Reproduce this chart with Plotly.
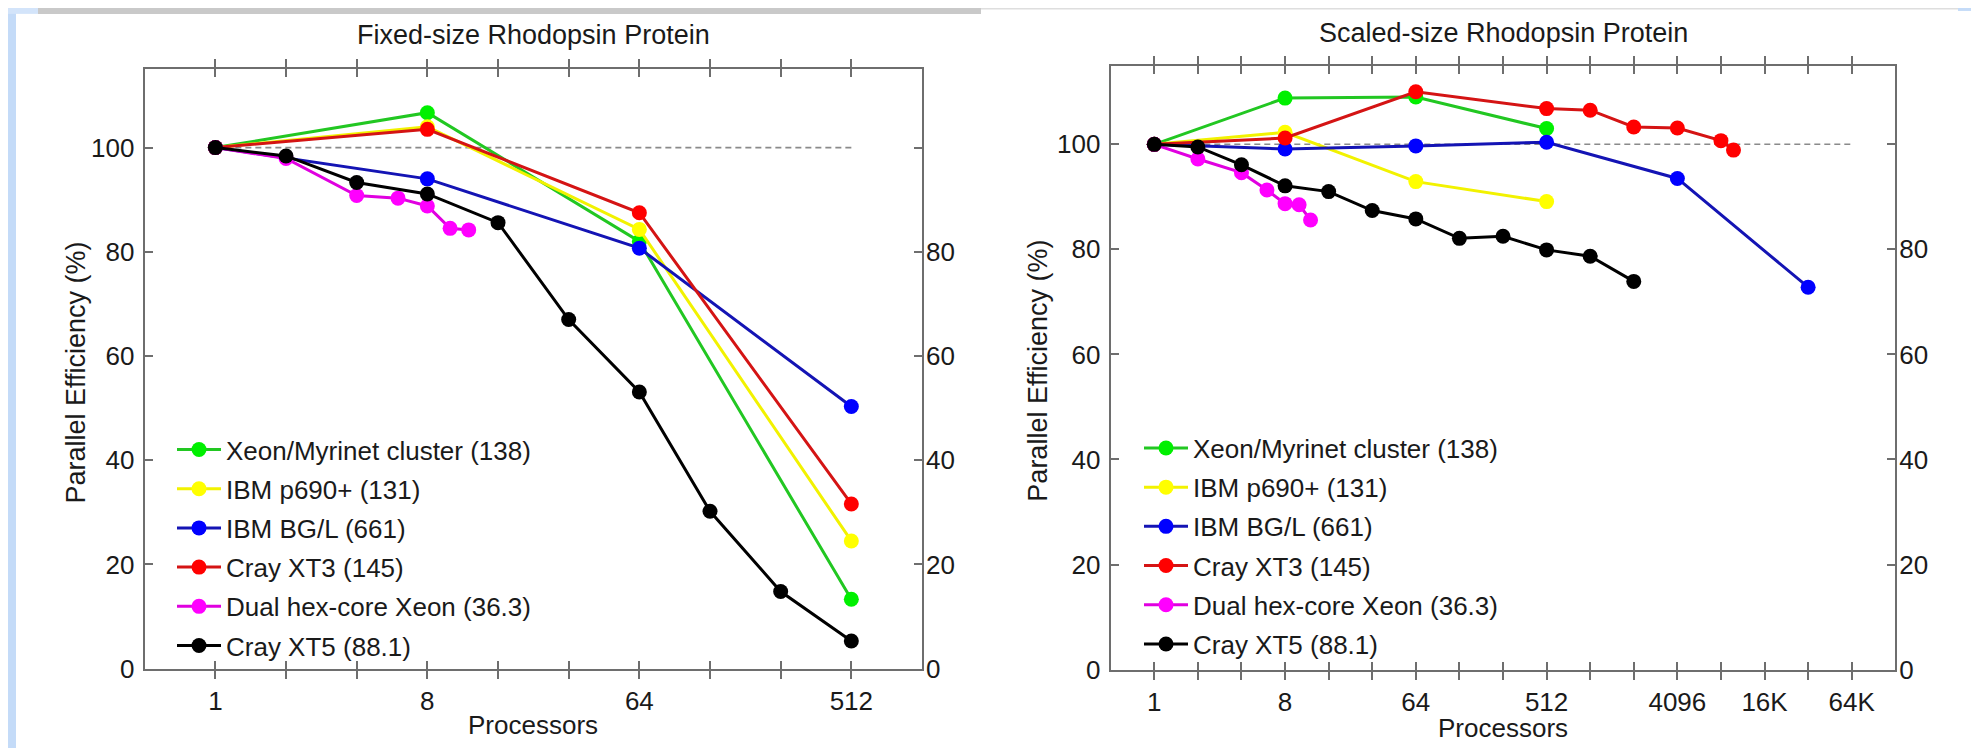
import math
import plotly.graph_objects as go

# ---------------- data ----------------
series_names = ["Xeon/Myrinet cluster (138)", "IBM p690+ (131)", "IBM BG/L (661)",
                "Cray XT3 (145)", "Dual hex-core Xeon (36.3)", "Cray XT5 (88.1)"]
line_colors = ["#22c722", "#f2f200", "#1414b4", "#d41414", "#e000e0", "#000000"]
marker_colors = ["#00f000", "#ffff00", "#0000ff", "#ff0000", "#ff00ff", "#000000"]

# Fixed-size Rhodopsin Protein
fixed_xeon_x = [1, 8, 64, 512]
fixed_xeon_y = [100, 106.7, 82.0, 13.3]
fixed_p690_x = [1, 8, 64, 512]
fixed_p690_y = [100, 104.0, 84.3, 24.5]
fixed_bgl_x = [1, 8, 64, 512]
fixed_bgl_y = [100, 94.0, 80.7, 50.3]
fixed_xt3_x = [1, 8, 64, 512]
fixed_xt3_y = [100, 103.5, 87.5, 31.6]
fixed_hex_x = [1, 2, 4, 6, 8, 10, 12]
fixed_hex_y = [100, 97.9, 90.8, 90.3, 88.8, 84.5, 84.2]
fixed_xt5_x = [1, 2, 4, 8, 16, 32, 64, 128, 256, 512]
fixed_xt5_y = [100, 98.4, 93.3, 91.1, 85.6, 67.0, 53.1, 30.2, 14.8, 5.3]

# Scaled-size Rhodopsin Protein
scaled_xeon_x = [1, 8, 64, 512]
scaled_xeon_y = [100, 108.8, 109.0, 103.0]
scaled_p690_x = [1, 8, 64, 512]
scaled_p690_y = [100, 102.3, 92.9, 89.1]
scaled_bgl_x = [1, 8, 64, 512, 4096, 32768]
scaled_bgl_y = [100, 99.1, 99.7, 100.4, 93.5, 72.8]
scaled_xt3_x = [1, 8, 64, 512, 1024, 2048, 4096, 8192, 10000]
scaled_xt3_y = [100, 101.2, 110.0, 106.8, 106.5, 103.3, 103.1, 100.7, 98.9]
scaled_hex_x = [1, 2, 4, 6, 8, 10, 12]
scaled_hex_y = [100, 97.2, 94.6, 91.3, 88.7, 88.5, 85.6]
scaled_xt5_x = [1, 2, 4, 8, 16, 32, 64, 128, 256, 512, 1024, 2048]
scaled_xt5_y = [100, 99.5, 96.1, 92.1, 91.0, 87.4, 85.8, 82.1, 82.5, 79.9, 78.7, 73.9]

# ideal-efficiency reference lines
fixed_ref_x = [1, 512]
scaled_ref_x = [1, 65536]
ref_y = [100, 100]

# axis ticks
fixed_tickvals = [1, 2, 4, 8, 16, 32, 64, 128, 256, 512]
fixed_ticktext = ["1", "", "", "8", "", "", "64", "", "", "512"]
scaled_tickvals = [1, 2, 4, 8, 16, 32, 64, 128, 256, 512, 1024, 2048, 4096,
                   8192, 16384, 32768, 65536]
scaled_ticktext = ["1", "", "", "8", "", "", "64", "", "", "512", "", "",
                   "4096", "", "16K", "", "64K"]
y_tickvals = [0, 20, 40, 60, 80, 100]
y_ticktext_left = ["0", "20", "40", "60", "80", "100"]
y_ticktext_right = ["0", "20", "40", "60", "80", ""]

# ---------------- figure ----------------
W, H = 1979, 755
FONT = "Liberation Sans, Arial, Helvetica, sans-serif"

def px_x(p):
    return p / W

def px_y(p):
    return 1 - p / H

fig = go.Figure()

fixed_sets = [(fixed_xeon_x, fixed_xeon_y), (fixed_p690_x, fixed_p690_y),
              (fixed_bgl_x, fixed_bgl_y), (fixed_xt3_x, fixed_xt3_y),
              (fixed_hex_x, fixed_hex_y), (fixed_xt5_x, fixed_xt5_y)]
scaled_sets = [(scaled_xeon_x, scaled_xeon_y), (scaled_p690_x, scaled_p690_y),
               (scaled_bgl_x, scaled_bgl_y), (scaled_xt3_x, scaled_xt3_y),
               (scaled_hex_x, scaled_hex_y), (scaled_xt5_x, scaled_xt5_y)]

# dashed 100% lines
fig.add_trace(go.Scatter(x=fixed_ref_x, y=ref_y, mode="lines", xaxis="x", yaxis="y",
                         line=dict(color="#8a8a8a", width=1.6, dash="6px,4px"),
                         showlegend=False, hoverinfo="skip"))
fig.add_trace(go.Scatter(x=scaled_ref_x, y=ref_y, mode="lines", xaxis="x2", yaxis="y2",
                         line=dict(color="#8a8a8a", width=1.6, dash="6px,4px"),
                         showlegend=False, hoverinfo="skip"))

for i, (xs, ys) in enumerate(fixed_sets):
    fig.add_trace(go.Scatter(
        x=xs, y=ys, mode="lines+markers", name=series_names[i],
        xaxis="x", yaxis="y", legend="legend", legendgroup="f%d" % i,
        line=dict(color=line_colors[i], width=3),
        marker=dict(color=marker_colors[i], size=15, line=dict(width=0))))

for i, (xs, ys) in enumerate(scaled_sets):
    fig.add_trace(go.Scatter(
        x=xs, y=ys, mode="lines+markers", name=series_names[i],
        xaxis="x2", yaxis="y2", legend="legend2", legendgroup="s%d" % i,
        line=dict(color=line_colors[i], width=3),
        marker=dict(color=marker_colors[i], size=15, line=dict(width=0))))

axis_line = "#6e6e6e"
tick_font = dict(family=FONT, size=26, color="#1a1a1a")

def xaxis_cfg(domain, rng, tv, tt, anchor):
    return dict(type="log", domain=domain, range=rng, anchor=anchor,
                tickmode="array", tickvals=tv, ticktext=tt,
                ticks="inside", ticklen=8, tickwidth=1.5, tickcolor=axis_line,
                showline=True, linecolor=axis_line, linewidth=2, mirror="allticks",
                showgrid=False, zeroline=False, tickfont=tick_font,
                ticklabelstandoff=8)

def yaxis_cfg(domain, anchor, tt, side="left", overlaying=None):
    d = dict(domain=domain, range=[0, 115], anchor=anchor, side=side,
             tickmode="array", tickvals=y_tickvals, ticktext=tt,
             ticks="inside", ticklen=8, tickwidth=1.5, tickcolor=axis_line,
             showgrid=False, zeroline=False, tickfont=tick_font,
             ticklabelstandoff=3)
    if overlaying:
        d.update(overlaying=overlaying, showline=False)
    else:
        d.update(showline=True, linecolor=axis_line, linewidth=2, mirror=True)
    return d

L_dom_x = [px_x(136.7), px_x(914.0)]
L_dom_y = [px_y(674.0), px_y(62.7)]
R_dom_x = [px_x(1102.7), px_x(1887.3)]
R_dom_y = [px_y(675.0), px_y(58.7)]

legend_font = dict(family=FONT, size=26, color="#1a1a1a")

fig.update_layout(
    width=W, height=H,
    margin=dict(l=0, r=0, t=0, b=0),
    paper_bgcolor="white", plot_bgcolor="white",
    font=dict(family=FONT, color="#1a1a1a"),
    xaxis=xaxis_cfg(L_dom_x, [math.log10(0.5), math.log10(1024)], fixed_tickvals, fixed_ticktext, "y"),
    yaxis=yaxis_cfg(L_dom_y, "x", y_ticktext_left),
    yaxis3=yaxis_cfg(L_dom_y, "x", y_ticktext_right, side="right", overlaying="y"),
    xaxis2=xaxis_cfg(R_dom_x, [math.log10(0.5), math.log10(131072)], scaled_tickvals, scaled_ticktext, "y2"),
    yaxis2=yaxis_cfg(R_dom_y, "x2", y_ticktext_left),
    yaxis4=yaxis_cfg(R_dom_y, "x2", y_ticktext_right, side="right", overlaying="y2"),
    legend=dict(x=px_x(164), y=px_y(426.6), xanchor="left", yanchor="top",
                bgcolor="rgba(255,255,255,0)", borderwidth=0, font=legend_font,
                itemwidth=44, tracegroupgap=2.4, traceorder="grouped"),
    legend2=dict(x=px_x(1131), y=px_y(425), xanchor="left", yanchor="top",
                 bgcolor="rgba(255,255,255,0)", borderwidth=0, font=legend_font,
                 itemwidth=44, tracegroupgap=2.4, traceorder="grouped"),
    showlegend=True,
)

# invisible traces so overlay y-axes (right side) are rendered
fig.add_trace(go.Scatter(x=fixed_ref_x, y=ref_y, xaxis="x", yaxis="y3", mode="lines",
                         line=dict(width=0, color="rgba(0,0,0,0)"), showlegend=False, hoverinfo="skip"))
fig.add_trace(go.Scatter(x=scaled_ref_x, y=ref_y, xaxis="x2", yaxis="y4", mode="lines",
                         line=dict(width=0, color="rgba(0,0,0,0)"), showlegend=False, hoverinfo="skip"))

# titles and axis labels
ann = []
ann.append(dict(text="Fixed-size Rhodopsin Protein", x=px_x(525.4), y=px_y(28), xref="paper", yref="paper",
                showarrow=False, xanchor="center", yanchor="middle", font=dict(family=FONT, size=27)))
ann.append(dict(text="Scaled-size Rhodopsin Protein", x=px_x(1495), y=px_y(25), xref="paper", yref="paper",
                showarrow=False, xanchor="center", yanchor="middle", font=dict(family=FONT, size=27)))
ann.append(dict(text="Processors", x=px_x(525.4), y=px_y(732), xref="paper", yref="paper",
                showarrow=False, xanchor="center", yanchor="middle", font=dict(family=FONT, size=26)))
ann.append(dict(text="Processors", x=px_x(1495), y=px_y(735), xref="paper", yref="paper",
                showarrow=False, xanchor="center", yanchor="middle", font=dict(family=FONT, size=26)))
ann.append(dict(text="Parallel Efficiency (%)", x=px_x(68), y=px_y(372), xref="paper", yref="paper",
                showarrow=False, xanchor="center", yanchor="middle", textangle=-90,
                font=dict(family=FONT, size=27)))
ann.append(dict(text="Parallel Efficiency (%)", x=px_x(1030), y=px_y(370), xref="paper", yref="paper",
                showarrow=False, xanchor="center", yanchor="middle", textangle=-90,
                font=dict(family=FONT, size=27)))
fig.update_layout(annotations=ann)

# slide decorations (background)
shapes = [
    dict(type="rect", xref="paper", yref="paper", x0=0, x1=px_x(8), y0=0, y1=1,
         fillcolor="#c4dbf8", line=dict(width=0), layer="below"),
    dict(type="rect", xref="paper", yref="paper", x0=0, x1=px_x(30), y0=px_y(6), y1=1,
         fillcolor="#d3e4fa", line=dict(width=0), layer="below"),
    dict(type="rect", xref="paper", yref="paper", x0=px_x(30), x1=px_x(973), y0=px_y(6), y1=1,
         fillcolor="#c9c9c9", line=dict(width=0), layer="below"),
    dict(type="rect", xref="paper", yref="paper", x0=px_x(973), x1=1, y0=px_y(1.5), y1=1,
         fillcolor="#dedede", line=dict(width=0), layer="below"),
    dict(type="rect", xref="paper", yref="paper", x0=px_x(1950), x1=1, y0=px_y(3), y1=1,
         fillcolor="#c4dbf8", line=dict(width=0), layer="below"),
]
fig.update_layout(shapes=shapes)

fig.write_html("out.html")
